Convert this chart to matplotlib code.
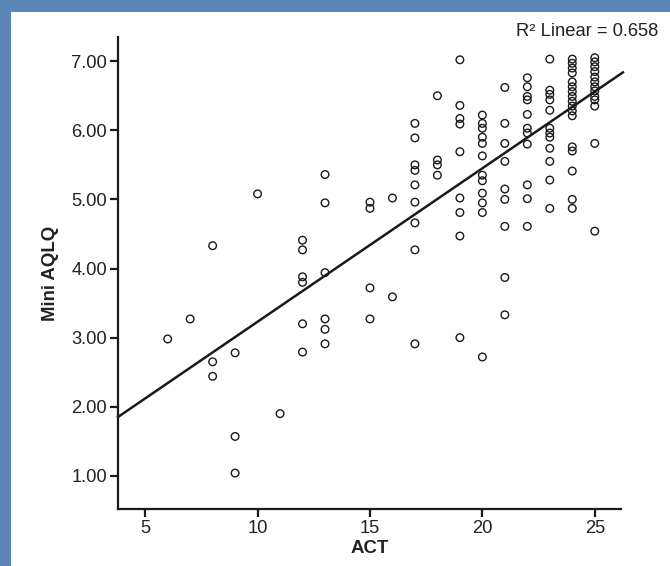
import matplotlib
matplotlib.use("Agg")
import matplotlib.pyplot as plt
from matplotlib.patches import Rectangle
import numpy as np

plt.rcParams["font.family"] = ["Liberation Sans", "DejaVu Sans"]

# ACT score levels and the Mini AQLQ values seen in each column of the scatter
act_levels = [6, 7, 8, 9, 10, 11, 12, 13, 15, 16, 17, 18, 19, 20, 21, 22, 23, 24, 25]
aqlq_by_act = [
    [2.98],
    [3.27],
    [4.33, 2.65, 2.44],
    [2.78, 1.57, 1.04],
    [5.08],
    [1.90],
    [4.41, 4.27, 3.88, 3.80, 3.20, 2.79],
    [5.36, 4.95, 3.94, 3.27, 3.12, 2.91],
    [4.96, 4.87, 3.72, 3.27],
    [5.02, 3.59],
    [6.10, 5.89, 5.50, 5.42, 5.21, 4.96, 4.66, 4.27, 2.91],
    [6.50, 5.57, 5.50, 5.35],
    [7.02, 6.36, 6.17, 6.09, 5.69, 5.02, 4.81, 4.47, 3.00],
    [6.22, 6.10, 6.03, 5.90, 5.81, 5.63, 5.35, 5.27, 5.09, 4.95, 4.81, 2.72],
    [6.62, 6.10, 5.81, 5.55, 5.15, 5.00, 4.61, 3.87, 3.33],
    [6.76, 6.63, 6.49, 6.44, 6.23, 6.03, 5.96, 5.80, 5.21, 5.01, 4.61],
    [7.03, 6.58, 6.52, 6.44, 6.29, 6.03, 5.96, 5.90, 5.74, 5.55, 5.28, 4.87],
    [7.03, 6.97, 6.90, 6.83, 6.70, 6.63, 6.56, 6.49, 6.42, 6.35, 6.28, 6.21,
     5.76, 5.70, 5.41, 5.00, 4.87],
    [7.05, 6.99, 6.92, 6.85, 6.77, 6.70, 6.63, 6.57, 6.49, 6.44, 6.35, 5.81, 4.54],
]
# linear fit as drawn in the chart (many points overlap, so a refit drifts a little)
fit_intercept = 1.01
fit_slope = 0.222
r2_text = "R\u00b2 Linear = 0.658"
x_ticks = [5, 10, 15, 20, 25]
y_ticks = [1, 2, 3, 4, 5, 6, 7]

act = np.concatenate([[a] * len(v) for a, v in zip(act_levels, aqlq_by_act)])
aqlq = np.concatenate(aqlq_by_act)

fig = plt.figure(figsize=(6.7, 5.66), dpi=100)

# blue frame of the page the chart was cut from
blue = "#5a87b8"
fig.patches.append(Rectangle((0, 1 - 12 / 566), 1, 12 / 566, transform=fig.transFigure,
                             facecolor=blue, edgecolor="none", zorder=0))
fig.patches.append(Rectangle((0, 0), 11 / 670, 1, transform=fig.transFigure,
                             facecolor=blue, edgecolor="none", zorder=0))

ax = fig.add_axes([118 / 670, 57 / 566, 502.6 / 670, 472 / 566])

ax.scatter(act, aqlq, s=30, facecolors="none", edgecolors="#1a1a1a", linewidths=1.0, zorder=3)

xlim = (3.79, 26.15)
xs = np.array([xlim[0], xlim[1] + 0.1])
ax.plot(xs, fit_intercept + fit_slope * xs, color="#1a1a1a", lw=1.8, zorder=2, clip_on=False)

ax.set_xlim(*xlim)
ax.set_ylim(0.52, 7.35)
ax.set_xticks(x_ticks)
ax.set_yticks(y_ticks)
ax.set_yticklabels([f"{v:.2f}" for v in y_ticks])

for side in ["top", "right"]:
    ax.spines[side].set_visible(False)
for side in ["left", "bottom"]:
    ax.spines[side].set_linewidth(1.6)
    ax.spines[side].set_color("#1a1a1a")
ax.tick_params(direction="out", length=6, width=1.6, color="#1a1a1a",
               labelsize=13.2, labelcolor="#222222", pad=2)

ax.set_xlabel("ACT", fontsize=13.4, fontweight="bold", color="#222222", labelpad=2)
ax.set_ylabel("Mini AQLQ", fontsize=13.4, fontweight="bold", color="#222222", labelpad=9)

fig.text(658 / 670, 1 - 31 / 566, r2_text, ha="right", va="center",
         fontsize=13.2, color="#222222")

fig.savefig("out.png", dpi=100)
